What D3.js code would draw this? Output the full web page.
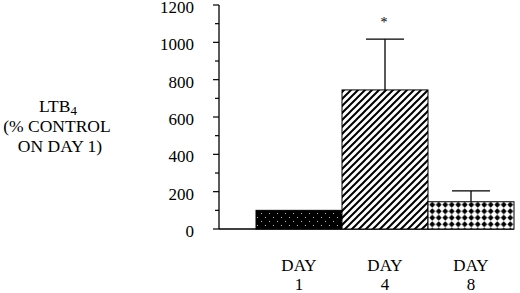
<!DOCTYPE html>
<html>
<head>
<meta charset="utf-8">
<script src="https://cdn.jsdelivr.net/npm/d3@7"></script>
<style>
  body { margin: 0; background: #fff; }
  svg text { font-family: "Liberation Serif", serif; }
</style>
</head>
<body>
<script>
// Data
const days = ["1", "4", "8"];
const values = [100, 745, 146];
const errors = [0, 272, 58];
const patterns = ["dots", "hatch", "diamonds"];
const yTicks = [0, 200, 400, 600, 800, 1000, 1200];

const width = 520, height = 293;
const font = "Liberation Serif";

const svg = d3.select("body").append("svg")
    .attr("width", width)
    .attr("height", height);

const defs = svg.append("defs");

// dark fill with small white dots
const p1 = defs.append("pattern").attr("id", "dots")
    .attr("patternUnits", "userSpaceOnUse").attr("width", 8).attr("height", 8);
p1.append("rect").attr("width", 8).attr("height", 8).attr("fill", "#000");
p1.append("rect").attr("x", 1).attr("y", 1).attr("width", 1).attr("height", 1).attr("fill", "#bbb");
p1.append("rect").attr("x", 5).attr("y", 5).attr("width", 1).attr("height", 1).attr("fill", "#bbb");

// diagonal hatch
const p2 = defs.append("pattern").attr("id", "hatch")
    .attr("patternUnits", "userSpaceOnUse").attr("width", 7).attr("height", 7);
p2.append("rect").attr("width", 7).attr("height", 7).attr("fill", "#fff");
p2.append("path").attr("d", "M-1,8 L8,-1 M-2,2 L2,-2 M5,9 L9,5")
    .attr("stroke", "#000").attr("stroke-width", 2);

// black diamonds on white
const p3 = defs.append("pattern").attr("id", "diamonds")
    .attr("patternUnits", "userSpaceOnUse").attr("width", 6.5).attr("height", 6.5);
p3.append("rect").attr("width", 6.5).attr("height", 6.5).attr("fill", "#fff");
p3.append("path").attr("d", "M3.25,0.2 L6.2,3.25 L3.25,6.3 L0.3,3.25 Z").attr("fill", "#000");

const x = d3.scaleBand().domain(days).range([256, 514]).padding(0);
const y = d3.scaleLinear().domain([0, 1200]).range([229, 5]);

// axis
const axisX = 219;
svg.append("line").attr("x1", axisX).attr("x2", axisX)
    .attr("y1", y(0)).attr("y2", y(1200)).attr("stroke", "#000").attr("stroke-width", 1.3);
svg.append("line").attr("x1", axisX).attr("x2", 514)
    .attr("y1", y(0)).attr("y2", y(0)).attr("stroke", "#000").attr("stroke-width", 1.3);

d3.range(0, 1201, 100).forEach(v => {
    const major = v % 200 === 0;
    svg.append("line")
        .attr("x1", axisX - (major ? 6 : 4)).attr("x2", axisX)
        .attr("y1", y(v)).attr("y2", y(v))
        .attr("stroke", "#000").attr("stroke-width", 1.2);
});

svg.selectAll(".ylab").data(yTicks).enter().append("text")
    .attr("class", "ylab")
    .attr("x", 194).attr("y", d => y(d) + 8)
    .attr("text-anchor", "end")
    .attr("font-family", font)
    .attr("font-size", 17)
    .text(d => d);

// bars
svg.selectAll(".bar").data(values).enter().append("rect")
    .attr("class", "bar")
    .attr("x", (d, i) => x(days[i]))
    .attr("y", d => y(d))
    .attr("width", x.bandwidth())
    .attr("height", d => y(0) - y(d))
    .attr("fill", (d, i) => `url(#${patterns[i]})`)
    .attr("stroke", "#000").attr("stroke-width", 1);

// error bars
values.forEach((v, i) => {
    if (!errors[i]) return;
    const cx = x(days[i]) + x.bandwidth() / 2;
    svg.append("line").attr("x1", cx).attr("x2", cx)
        .attr("y1", y(v)).attr("y2", y(v + errors[i]))
        .attr("stroke", "#000").attr("stroke-width", 1.3);
    svg.append("line").attr("x1", cx - 19).attr("x2", cx + 19)
        .attr("y1", y(v + errors[i])).attr("y2", y(v + errors[i]))
        .attr("stroke", "#000").attr("stroke-width", 1.3);
});

// significance marker
svg.append("text")
    .attr("x", x("4") + x.bandwidth() / 2 - 1)
    .attr("y", y(values[1] + errors[1]) - 12)
    .attr("text-anchor", "middle")
    .attr("font-family", font)
    .attr("font-size", 14)
    .text("*");

// x labels
svg.selectAll(".xday").data(days).enter().append("text")
    .attr("x", d => x(d) + x.bandwidth() / 2)
    .attr("y", 271)
    .attr("text-anchor", "middle")
    .attr("font-family", font)
    .attr("font-size", 17)
    .text("DAY");
svg.selectAll(".xnum").data(days).enter().append("text")
    .attr("x", d => x(d) + x.bandwidth() / 2)
    .attr("y", 290)
    .attr("text-anchor", "middle")
    .attr("font-family", font)
    .attr("font-size", 17)
    .text(d => d);

// y title
const t = svg.append("text").attr("text-anchor", "middle")
    .attr("font-family", font).attr("font-size", 17.5);
const l1 = t.append("tspan").attr("x", 58).attr("y", 112);
l1.append("tspan").text("LTB");
l1.append("tspan").attr("font-size", 13).attr("dy", 3).text("4");
t.append("tspan").attr("x", 57).attr("y", 132).text("(% CONTROL");
t.append("tspan").attr("x", 60).attr("y", 152).text("ON DAY 1)");
</script>
</body>
</html>
